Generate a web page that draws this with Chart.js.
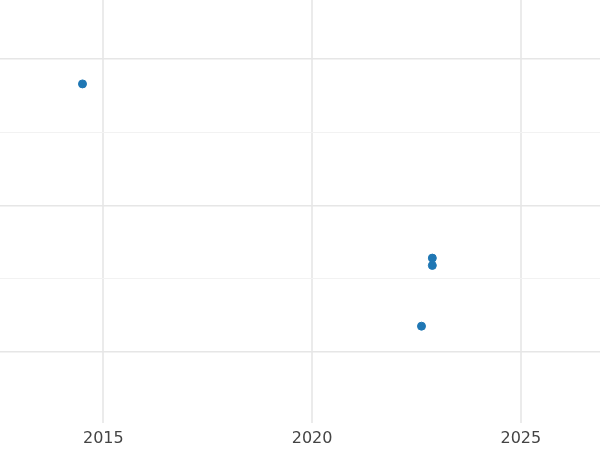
<!DOCTYPE html>
<html><head><meta charset="utf-8">
<script src="https://cdn.jsdelivr.net/npm/chart.js@4"></script>
<style>html,body{margin:0;padding:0;background:#fff;overflow:hidden}#w{width:612px;height:460px;margin:-6px 0 0 -6px}</style>
</head><body><div id="w"><canvas id="c"></canvas></div>
<script>
const xValues = [2014.5, 2022.88, 2022.88, 2022.62];
const yValues = [4.66, 2.28, 2.18, 1.35];
const xTicks = [2015, 2020, 2025];
const yTicks = [1, 2, 3, 4, 5];
const pts = xValues.map((x, i) => ({x, y: yValues[i]}));
new Chart(document.getElementById('c'), {
  type: 'scatter',
  data: {datasets: [{data: pts, backgroundColor: '#1f77b4', borderColor: '#1f77b4', pointRadius: 4}]},
  options: {
    responsive: true, maintainAspectRatio: false, animation: false,
    layout: {padding: 0},
    plugins: {legend: {display: false}, tooltip: {enabled: false}},
    scales: {
      x: {type: 'linear', min: 2012.5, max: 2026.92,
        afterBuildTicks: a => { a.ticks = xTicks.map(v => ({value: v})); },
        ticks: {color: '#444', font: {family: 'DejaVu Sans', size: 16}, padding: 6, callback: v => String(v)},
        grid: {color: '#ebebeb', lineWidth: 2, drawTicks: false},
        border: {display: false}},
      y: {type: 'linear', min: 0.03, max: 5.82,
        afterBuildTicks: a => { a.ticks = yTicks.map(v => ({value: v})); },
        ticks: {display: false},
        grid: {color: c => (c.tick && c.tick.value % 2 === 1) ? '#e6e6e6' : '#f2f2f2', lineWidth: c => (c.tick && c.tick.value % 2 === 1) ? 1.5 : 1, drawTicks: false},
        border: {display: false}}
    }
  }
});
</script></body></html>
